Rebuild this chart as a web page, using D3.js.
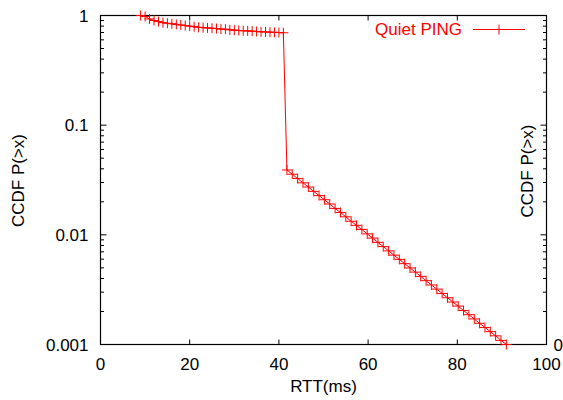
<!DOCTYPE html>
<html>
<head>
<meta charset="utf-8">
<script src="https://cdn.jsdelivr.net/npm/d3@7"></script>
<style>
  body { margin: 0; background: #fff; }
  svg { display: block; }
</style>
</head>
<body>
<div id="chart"></div>
<script>
// RTT (ms) and CCDF values
const rtt = [
    9, 10, 11, 12, 13, 14, 15, 16, 17, 18, 19, 20, 21, 22, 23, 24, 25,
    26, 27, 28, 29, 30, 31, 32, 33, 34, 35, 36, 37, 38, 39, 40, 41,
    41.8, 43.0, 44.2, 45.4, 46.6, 47.8, 49.0, 50.2, 51.4, 52.6, 53.8, 55.0,
    56.2, 57.4, 58.6, 59.8, 61.0, 62.2, 63.4, 64.6, 65.8, 67.0, 68.2, 69.4,
    70.6, 71.8, 73.0, 74.2, 75.4, 76.6, 77.8, 79.0, 80.2, 81.4, 82.6, 83.8,
    85.0, 86.2, 87.4, 88.6, 89.8, 91.0
];
const ccdf = [
    1.0, 0.98, 0.93, 0.90, 0.88, 0.86, 0.85, 0.84, 0.83, 0.82, 0.81, 0.80, 0.79, 0.78, 0.775, 0.77, 0.765,
    0.76, 0.752, 0.75, 0.74, 0.735, 0.73, 0.726, 0.723, 0.72, 0.715, 0.71, 0.708, 0.705, 0.702, 0.699, 0.696,
    0.039, 0.0357, 0.0326, 0.0298, 0.0273, 0.0249, 0.0228, 0.0209, 0.0191, 0.0174, 0.0160, 0.0146,
    0.0133, 0.0122, 0.0112, 0.0102, 0.00934, 0.00854, 0.00781, 0.00714, 0.00653, 0.00597, 0.00546, 0.00499,
    0.00457, 0.00418, 0.00382, 0.00349, 0.00320, 0.00292, 0.00267, 0.00244, 0.00224, 0.00204,
    0.00187, 0.00171, 0.00156, 0.00143, 0.00131, 0.00120, 0.00109, 0.00100
];
const xTicks = [0, 20, 40, 60, 80, 100];
const yTicks = [0.001, 0.01, 0.1, 1];
const yTickLabels = ['0.001', '0.01', '0.1', '1'];
const seriesName = 'Quiet PING';

const width = 563, height = 400;
const margin = {left: 100.5, right: 16.5, top: 15.5, bottom: 55.5};
const font = '"Liberation Sans", Arial, sans-serif';
const fs = 17;

const svg = d3.select('#chart').append('svg')
    .attr('width', width)
    .attr('height', height)
    .attr('font-family', font);

const x = d3.scaleLinear()
    .domain([0, 100])
    .range([margin.left, width - margin.right]);
const y = d3.scaleLog()
    .domain([0.001, 1])
    .range([height - margin.bottom, margin.top]);

// Minor log ticks 2..9 of every decade
const minor = [];
[0.001, 0.01, 0.1].forEach(d => {
    for (let k = 2; k <= 9; k++) minor.push(d * k);
});

const axes = svg.append('g').attr('stroke', 'black').attr('stroke-width', 1);

// Left / right ticks
yTicks.forEach(v => {
    axes.append('line').attr('x1', x(0)).attr('x2', x(0) + 6).attr('y1', y(v)).attr('y2', y(v));
    axes.append('line').attr('x1', x(100)).attr('x2', x(100) - 6).attr('y1', y(v)).attr('y2', y(v));
});
minor.forEach(v => {
    axes.append('line').attr('x1', x(0)).attr('x2', x(0) + 3.5).attr('y1', y(v)).attr('y2', y(v));
    axes.append('line').attr('x1', x(100)).attr('x2', x(100) - 3.5).attr('y1', y(v)).attr('y2', y(v));
});
// Bottom / top ticks
xTicks.forEach(v => {
    axes.append('line').attr('x1', x(v)).attr('x2', x(v)).attr('y1', y(0.001)).attr('y2', y(0.001) - 5);
    axes.append('line').attr('x1', x(v)).attr('x2', x(v)).attr('y1', y(1)).attr('y2', y(1) + 5);
});

// Border
axes.append('rect')
    .attr('x', x(0))
    .attr('y', y(1))
    .attr('width', x(100) - x(0))
    .attr('height', y(0.001) - y(1))
    .attr('fill', 'none')
    .attr('stroke-width', 1.2);

// Tick labels
svg.append('g').selectAll('text')
    .data(yTicks).enter()
    .append('text')
    .attr('x', x(0) - 12)
    .attr('y', d => y(d) + 6)
    .attr('font-size', fs)
    .attr('text-anchor', 'end')
    .text((d, i) => yTickLabels[i]);

svg.append('g').selectAll('text')
    .data(xTicks).enter()
    .append('text')
    .attr('x', d => x(d))
    .attr('y', y(0.001) + 25)
    .attr('font-size', fs)
    .attr('text-anchor', 'middle')
    .text(d => d);

// y2 axis only shows 0
svg.append('text')
    .attr('x', x(100) + 7)
    .attr('y', y(0.001) + 6)
    .attr('font-size', fs)
    .text('0');

// Axis labels
svg.append('text')
    .attr('transform', `translate(23.5, 180.5) rotate(-90)`)
    .attr('font-size', fs)
    .attr('text-anchor', 'middle')
    .text('CCDF P(>x)');

svg.append('text')
    .attr('transform', `translate(532.5, 171) rotate(-90)`)
    .attr('font-size', fs)
    .attr('text-anchor', 'middle')
    .text('CCDF P(>x)');

svg.append('text')
    .attr('x', x(50))
    .attr('y', 392)
    .attr('font-size', fs)
    .attr('text-anchor', 'middle')
    .text('RTT(ms)');

// Series
const points = rtt.map((d, i) => [d, ccdf[i]]);
const line = d3.line()
    .x(d => x(d[0]))
    .y(d => y(d[1]));

svg.append('path')
    .datum(points)
    .attr('d', line)
    .attr('fill', 'none')
    .attr('stroke', 'red')
    .attr('stroke-width', 1);

const arm = 5;
const marks = svg.append('g').attr('stroke', 'red').attr('stroke-width', 1);
points.forEach(d => {
    const px = x(d[0]), py = y(d[1]);
    marks.append('path')
        .attr('d', `M${px - arm},${py}H${px + arm}M${px},${py - arm}V${py + arm}`);
});

// Legend
svg.append('text')
    .attr('x', 462)
    .attr('y', 35)
    .attr('font-size', fs)
    .attr('fill', 'red')
    .attr('text-anchor', 'end')
    .text(seriesName);

const legend = svg.append('g').attr('stroke', 'red').attr('stroke-width', 1);
legend.append('line').attr('x1', 473).attr('x2', 525).attr('y1', 29.5).attr('y2', 29.5);
legend.append('path').attr('d', `M${499 - arm},29.5H${499 + arm}M499,${29.5 - arm}V${29.5 + arm}`);
</script>
</body>
</html>
